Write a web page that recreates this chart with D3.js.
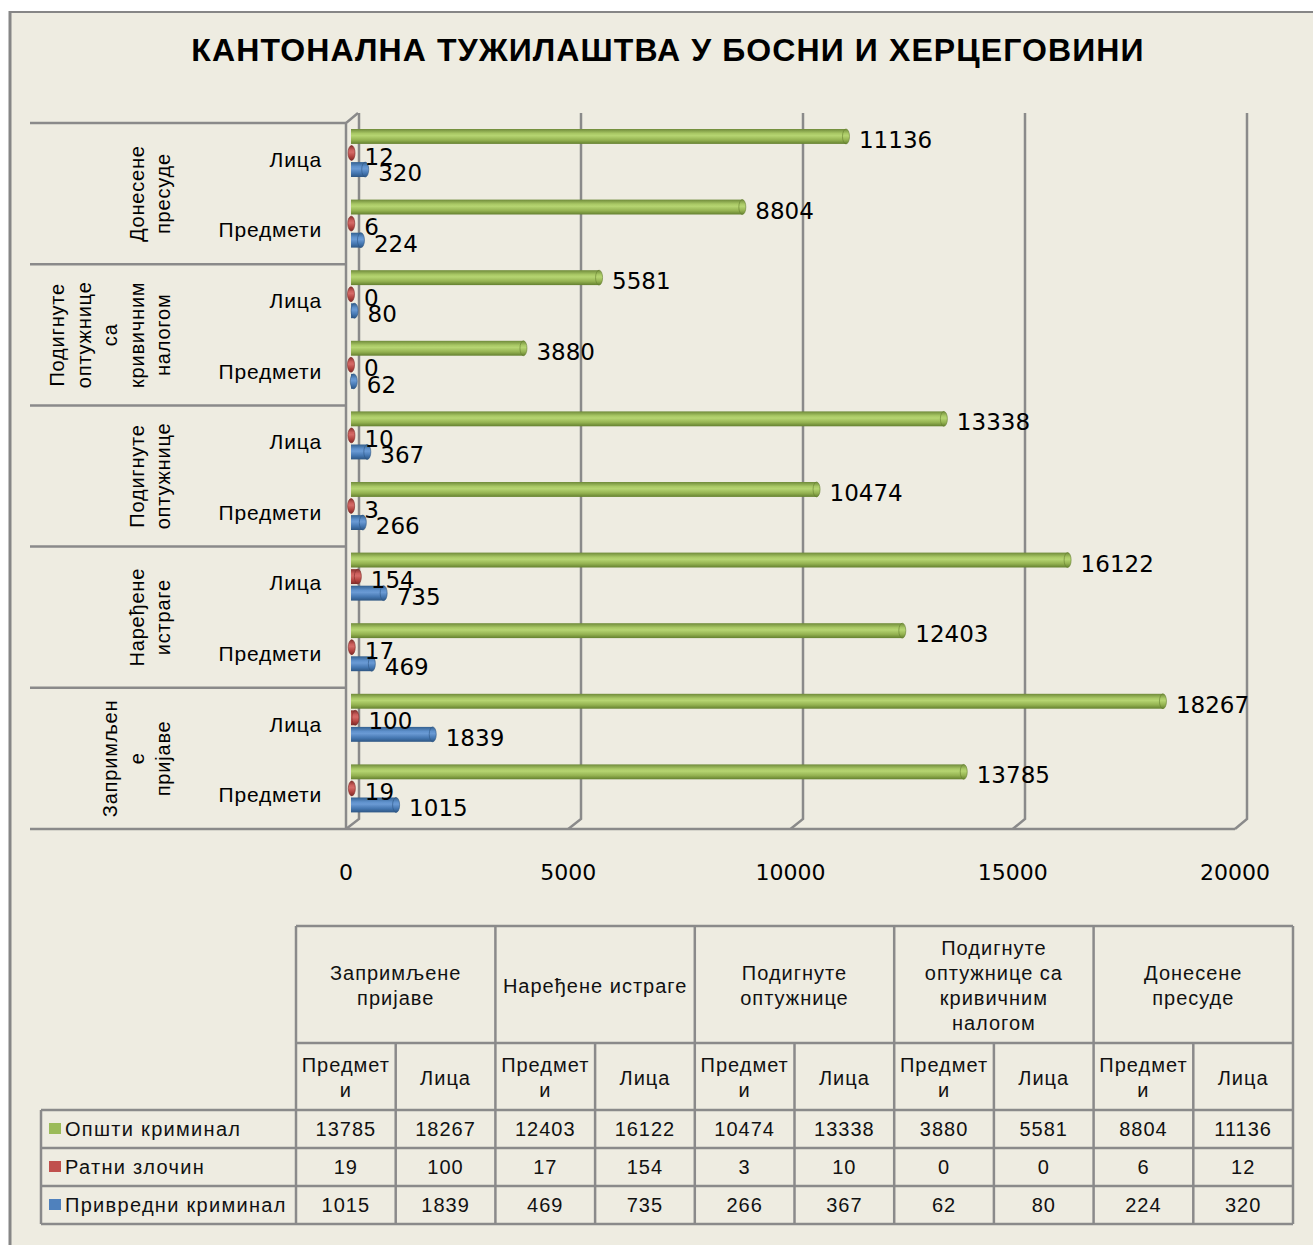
<!DOCTYPE html>
<html>
<head>
<meta charset="utf-8">
<script src="https://cdn.jsdelivr.net/npm/d3@7"></script>
<style>
  body { margin: 0; background: #fff; }
  svg { display: block; }
</style>
</head>
<body>
<svg id="chart" width="1313" height="1245"></svg>
<script>
// categories, Excel order (first one is drawn at the bottom)
var groups = ["Запримљене пријаве", "Наређене истраге", "Подигнуте оптужнице",
              "Подигнуте оптужнице са кривичним налогом", "Донесене пресуде"];
var axisGroupLines = [["Запримљен", "е", "пријаве"], ["Наређене", "истраге"], ["Подигнуте", "оптужнице"],
                      ["Подигнуте", "оптужнице", "са", "кривичним", "налогом"], ["Донесене", "пресуде"]];
var tableGroupLines = [["Запримљене", "пријаве"], ["Наређене истраге"], ["Подигнуте", "оптужнице"],
                       ["Подигнуте", "оптужнице са", "кривичним", "налогом"], ["Донесене", "пресуде"]];
var subs = ["Предмети", "Лица"];
var subTableLines = [["Предмет", "и"], ["Лица"]];

var seriesNames = ["Општи криминал", "Ратни злочин", "Привредни криминал"];
var opsti     = [13785, 18267, 12403, 16122, 10474, 13338, 3880, 5581, 8804, 11136];
var ratni     = [19, 100, 17, 154, 3, 10, 0, 0, 6, 12];
var privredni = [1015, 1839, 469, 735, 266, 367, 62, 80, 224, 320];
var xTicks = [0, 5000, 10000, 15000, 20000];

var colors = ["#9BBB59", "#C0504D", "#4F81BD"];
var shades = [
  ["#6f8a3a", "#a9c865", "#b6d572", "#93b150", "#64802f"],
  ["#86302e", "#cd605d", "#d46b68", "#b2433f", "#7c2b29"],
  ["#33608f", "#5f91cc", "#6a9ad4", "#4476b0", "#2e5683"]
];
var seriesData = [opsti, ratni, privredni];

var svg = d3.select("#chart");
var bg = "#EEECE1", lineCol = "#8a8a8a";

// chart area + outer border
svg.append("rect").attr("x", 10).attr("y", 12).attr("width", 1303).attr("height", 1233).attr("fill", bg);
svg.append("line").attr("x1", 9).attr("x2", 1313).attr("y1", 12).attr("y2", 12)
  .attr("stroke", "#868686").attr("stroke-width", 2);
svg.append("line").attr("x1", 10).attr("x2", 10).attr("y1", 11).attr("y2", 1245)
  .attr("stroke", "#868686").attr("stroke-width", 3);

// title
svg.append("text").attr("x", 668).attr("y", 61).attr("text-anchor", "middle")
  .attr("font-family", "Liberation Sans, Arial, sans-serif").attr("font-weight", "bold")
  .attr("font-size", 32).attr("letter-spacing", 1.1).attr("fill", "#000")
  .text("КАНТОНАЛНА ТУЖИЛАШТВА У БОСНИ И ХЕРЦЕГОВИНИ");

// gradients for the cylinders
var defs = svg.append("defs");
shades.forEach(function (s, i) {
  var g = defs.append("linearGradient").attr("id", "cyl" + i)
    .attr("x1", 0).attr("x2", 0).attr("y1", 0).attr("y2", 1);
  [0, 0.3, 0.45, 0.75, 1].forEach(function (o, k) {
    g.append("stop").attr("offset", o).attr("stop-color", s[k]);
  });
});

// scales
var rows = d3.range(10);                       // 0 = Запримљене/Предмети ... 9 = Донесене/Лица
var y = d3.scaleBand().domain(rows.slice().reverse()).range([123, 829]);
var inner = d3.scaleBand().domain([0, 1, 2]).range([6, 54]).paddingInner(0.1);
var x = d3.scaleLinear().domain([0, 20000]).range([351, 1240]);
var xBack = d3.scaleLinear().domain([0, 20000]).range([359, 1247]);
var xFront = d3.scaleLinear().domain([0, 20000]).range([346, 1235]);
var depth = 12, rise = 10;

// back wall gridlines with their feet on the floor
var grid = svg.append("g").attr("stroke", lineCol).attr("stroke-width", 2.5).attr("fill", "none");
xTicks.forEach(function (t) {
  grid.append("path").attr("d", "M" + xBack(t) + ",113 V" + (829 - rise) + " L" + xFront(t) + ",829");
});
// floor front edge and left wall front edge
grid.append("line").attr("x1", xFront(0)).attr("x2", xFront(20000)).attr("y1", 829).attr("y2", 829);
grid.append("path").attr("d", "M" + xFront(0) + ",829 V123 L" + (xFront(0) + depth) + "," + (123 - rise));

// category separators
var sep = svg.append("g").attr("stroke", lineCol).attr("stroke-width", 2.5);
d3.range(5).forEach(function (k) {
  var yy = y(k * 2 + 1);
  sep.append("line").attr("x1", 30).attr("x2", xFront(0)).attr("y1", yy).attr("y2", yy);
});
sep.append("line").attr("x1", 30).attr("x2", xFront(0)).attr("y1", 829).attr("y2", 829);

// sub-category labels
var font = "Liberation Sans, Arial, sans-serif";
rows.forEach(function (r) {
  svg.append("text").attr("x", 322).attr("y", y(r) + y.bandwidth() * 0.5 + 3)
    .attr("text-anchor", "end").attr("dominant-baseline", "middle")
    .attr("font-family", font).attr("font-size", 21).attr("letter-spacing", 0.8)
    .text(subs[r % 2]);
});

// group labels, rotated
axisGroupLines.forEach(function (lines, gi) {
  var cy = y(gi * 2 + 1) + y.bandwidth();
  var n = lines.length;
  lines.forEach(function (ln, li) {
    var cx = 165 - (n - 1 - li) * 26.5;
    svg.append("text").attr("transform", "translate(" + cx + "," + cy + ") rotate(-90)")
      .attr("text-anchor", "middle").attr("dominant-baseline", "middle")
      .attr("font-family", font).attr("font-size", 20).attr("letter-spacing", 0.8)
      .text(ln);
  });
});

// bars as cylinders
var bars = svg.append("g");
var labels = svg.append("g").attr("font-family", "DejaVu Sans, sans-serif").attr("font-size", 23).attr("fill", "#000");
seriesData.forEach(function (vals, si) {
  vals.forEach(function (v, r) {
    var top = y(r) + inner(si), h = inner.bandwidth();
    var x0 = x(0), x1 = x(v);
    bars.append("rect").attr("x", x0).attr("y", top).attr("width", Math.max(0, x1 - x0)).attr("height", h)
      .attr("fill", "url(#cyl" + si + ")");
    bars.append("ellipse").attr("cx", x1).attr("cy", top + h / 2).attr("rx", 3.5).attr("ry", h / 2)
      .attr("fill", "url(#cyl" + si + ")").attr("stroke", shades[si][4]).attr("stroke-width", 0.6);
    labels.append("text").attr("x", x1 + 13).attr("y", top + h / 2 + 5)
      .attr("dominant-baseline", "middle").text(v);
  });
});

// value axis tick labels
svg.append("g").selectAll("text").data(xTicks).join("text")
  .attr("x", function (d) { return xFront(d); }).attr("y", 874)
  .attr("text-anchor", "middle").attr("dominant-baseline", "middle")
  .attr("font-family", "DejaVu Sans, sans-serif").attr("font-size", 22)
  .text(function (d) { return d; });

// data table
var colX = d3.scaleLinear().domain([0, 10]).range([296, 1293]);
var rowY = [926, 1043, 1110, 1148, 1186, 1224];
var tbl = svg.append("g").attr("stroke", lineCol).attr("stroke-width", 2.5);
tbl.append("line").attr("x1", colX(0)).attr("x2", colX(10)).attr("y1", rowY[0]).attr("y2", rowY[0]);
tbl.append("line").attr("x1", colX(0)).attr("x2", colX(10)).attr("y1", rowY[1]).attr("y2", rowY[1]);
[2, 3, 4, 5].forEach(function (k) {
  tbl.append("line").attr("x1", 41).attr("x2", colX(10)).attr("y1", rowY[k]).attr("y2", rowY[k]);
});
d3.range(11).forEach(function (c) {
  tbl.append("line").attr("x1", colX(c)).attr("x2", colX(c))
    .attr("y1", c % 2 === 0 ? rowY[0] : rowY[1]).attr("y2", rowY[5]);
});
tbl.append("line").attr("x1", 41).attr("x2", 41).attr("y1", rowY[2]).attr("y2", rowY[5]);

var tt = svg.append("g").attr("font-family", font).attr("font-size", 20)
  .attr("letter-spacing", 1).attr("fill", "#111").attr("text-anchor", "middle")
  .attr("dominant-baseline", "middle");
tableGroupLines.forEach(function (lines, gi) {
  var cx = (colX(gi * 2) + colX(gi * 2 + 2)) / 2, cy = (rowY[0] + rowY[1]) / 2 + 3;
  lines.forEach(function (ln, li) {
    tt.append("text").attr("x", cx).attr("y", cy + (li - (lines.length - 1) / 2) * 25).text(ln);
  });
});
d3.range(10).forEach(function (c) {
  var lines = subTableLines[c % 2];
  var cx = (colX(c) + colX(c + 1)) / 2, cy = (rowY[1] + rowY[2]) / 2 + 3;
  lines.forEach(function (ln, li) {
    tt.append("text").attr("x", cx).attr("y", cy + (li - (lines.length - 1) / 2) * 25).text(ln);
  });
});
seriesData.forEach(function (vals, si) {
  var cy = (rowY[2 + si] + rowY[3 + si]) / 2 + 2;
  vals.forEach(function (v, c) {
    tt.append("text").attr("x", (colX(c) + colX(c + 1)) / 2).attr("y", cy).text(v);
  });
  svg.append("rect").attr("x", 49).attr("y", cy - 8).attr("width", 12).attr("height", 11).attr("fill", colors[si]);
  svg.append("text").attr("x", 65).attr("y", cy).attr("dominant-baseline", "middle")
    .attr("font-family", font).attr("font-size", 20).attr("letter-spacing", 1.3).attr("fill", "#111")
    .text(seriesNames[si]);
});
</script>
</body>
</html>
